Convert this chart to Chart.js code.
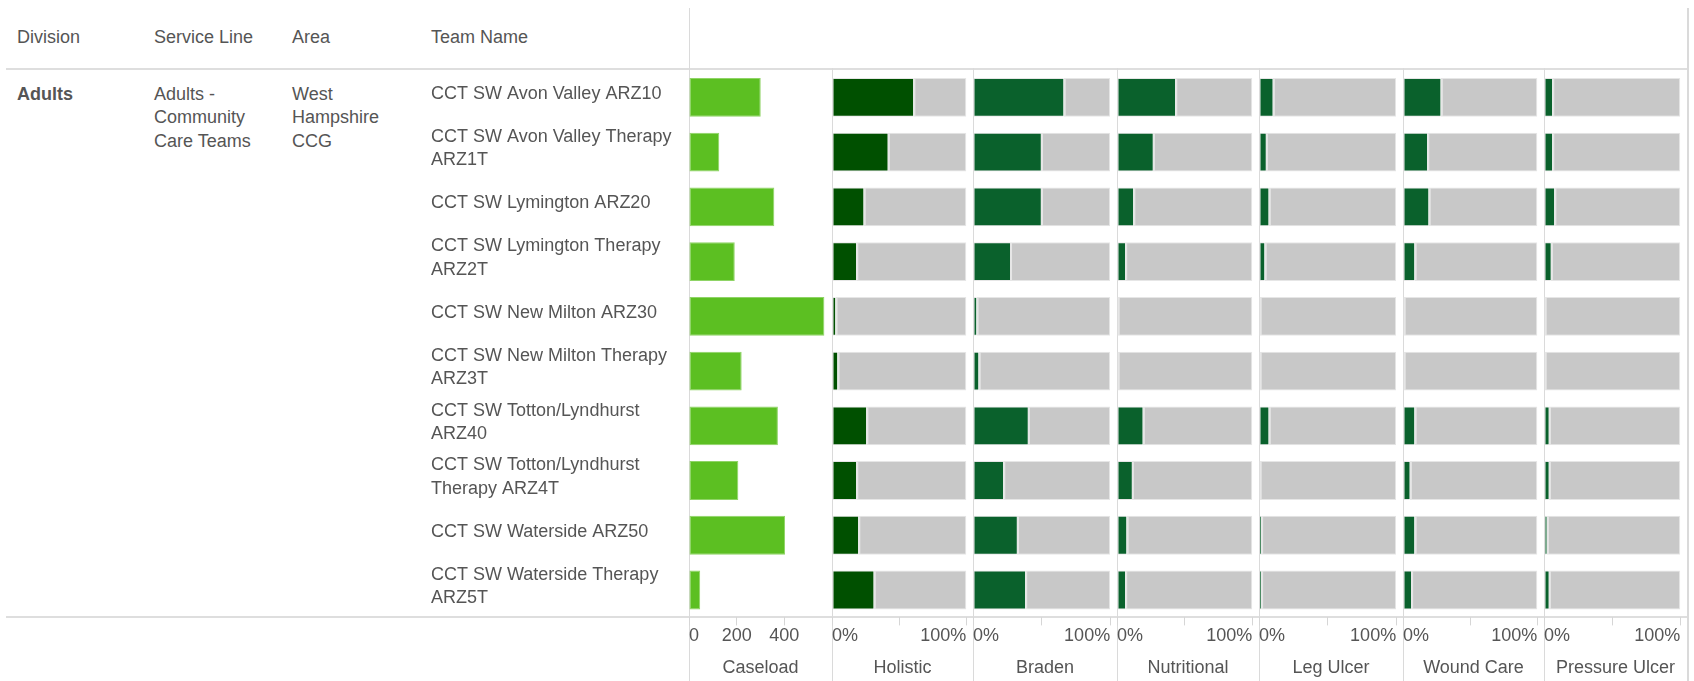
<!DOCTYPE html>
<html lang="en">
<head>
<meta charset="UTF-8">
<title>Team care plan compliance</title>
<script src="https://cdn.jsdelivr.net/npm/chart.js@4.4.1/dist/chart.umd.min.js"></script>
<style>
  body { margin: 0; width: 1694px; height: 681px; background: #fff; position: relative; overflow: hidden;
         font-family: "Liberation Sans", Arial, sans-serif; font-size: 18px; color: #555; }
  .txt { position: absolute; line-height: 23.4px; white-space: nowrap; }
  .hline { position: absolute; left: 6px; width: 1682px; height: 2px; background: #dedede; }
  .vline { position: absolute; width: 1px; bottom: 0; background: #dadada; }
  canvas { position: absolute; top: 70px; }
</style>
</head>
<body>
<div class="hline" style="top:68px"></div>
<div class="hline" style="top:616px"></div>
<div class="vline" style="left:689px;top:8px"></div>
<div class="vline" style="left:832px;top:68px"></div>
<div class="vline" style="left:973px;top:68px"></div>
<div class="vline" style="left:1117px;top:68px"></div>
<div class="vline" style="left:1259px;top:68px"></div>
<div class="vline" style="left:1403px;top:68px"></div>
<div class="vline" style="left:1544px;top:68px"></div>
<div class="vline" style="left:1687px;top:8px;width:2px"></div>

<canvas id="caseload" width="401" height="611" style="left:431px"></canvas>
<canvas id="holistic" width="141" height="611" style="left:832px"></canvas>
<canvas id="braden" width="144" height="611" style="left:973px"></canvas>
<canvas id="nutritional" width="142" height="611" style="left:1117px"></canvas>
<canvas id="legUlcer" width="144" height="611" style="left:1259px"></canvas>
<canvas id="woundCare" width="141" height="611" style="left:1403px"></canvas>
<canvas id="pressureUlcer" width="143" height="611" style="left:1544px"></canvas>

<script>
// table headers and the single division / service line / area
const headers = ["Division", "Service Line", "Area", "Team Name"];
const division = ["Adults"];
const serviceLine = ["Adults -", "Community", "Care Teams"];
const area = ["West", "Hampshire", "CCG"];

// one row per team
const teams = [
  "CCT SW Avon Valley ARZ10",
  ["CCT SW Avon Valley Therapy", "ARZ1T"],
  "CCT SW Lymington ARZ20",
  ["CCT SW Lymington Therapy", "ARZ2T"],
  "CCT SW New Milton ARZ30",
  ["CCT SW New Milton Therapy", "ARZ3T"],
  ["CCT SW Totton/Lyndhurst", "ARZ40"],
  ["CCT SW Totton/Lyndhurst", "Therapy ARZ4T"],
  "CCT SW Waterside ARZ50",
  ["CCT SW Waterside Therapy", "ARZ5T"]
];

const caseload      = [301, 127, 358, 192, 568, 221, 373, 207, 403, 47];
const holistic      = [60.5, 41.5, 23.5, 18, 2.5, 4, 25.5, 18, 19.5, 31];
const braden        = [66, 49.5, 49.5, 27, 2.5, 4, 40, 22, 32, 38];
const nutritional   = [43, 26.5, 12, 6, 0, 0, 19, 11, 7, 6];
const legUlcer      = [10, 5, 7, 4, 0, 0, 7, 0, 1.5, 1.5];
const woundCare     = [28, 18, 19, 8.5, 0, 0, 8.5, 5, 8.5, 6];
const pressureUlcer = [6, 6, 7.5, 5, 0, 0, 3.5, 3.5, 2, 3.5];

const caseloadTicks = [0, 200, 400, 600];
const caseloadTickLabels = ["0", "200", "400", ""];
const pctTicks = [0, 50, 100];
const pctTickLabels = ["0%", "", "100%"];

const FONT = '"Liberation Sans", Arial, sans-serif';
const TEXT = '#555';
const GREY = '#c8c8c8';
const EDGE = '#e6e6e6';

// left hand text columns
const colX = [17, 154, 292, 431];
function addText(x, y, lines, bold) {
  const d = document.createElement('div');
  d.className = 'txt';
  d.style.left = x + 'px';
  d.style.top = y + 'px';
  if (bold) d.style.fontWeight = 'bold';
  d.innerHTML = lines.join('<br>');
  document.body.appendChild(d);
}
headers.forEach((h, i) => addText(colX[i], 26, [h]));
addText(colX[0], 83, division, true);
addText(colX[1], 83, serviceLine);
addText(colX[2], 83, area);

function xAxis(title, max, ticks, labels) {
  return {
    min: 0, max: max,
    afterBuildTicks: s => { s.ticks = ticks.map(v => ({ value: v })); },
    afterFit: s => { s.height = 63.6; s.paddingLeft = 0; s.paddingRight = 0; },
    ticks: {
      align: 'inner', padding: 0, maxRotation: 0, autoSkip: false, color: TEXT,
      font: { family: FONT, size: 18 },
      callback: (v, i) => labels[i]
    },
    grid: { drawOnChartArea: false, drawTicks: true, tickLength: 8, tickColor: '#d6d6d6' },
    border: { display: false },
    title: { display: true, text: title, color: TEXT, font: { family: FONT, size: 18 }, padding: { top: 0, bottom: 2 } }
  };
}

const common = {
  indexAxis: 'y', responsive: false, animation: false,
  layout: { padding: 0 },
  plugins: { legend: { display: false }, tooltip: { enabled: false } }
};

// caseload panel carries the team names as its category axis
new Chart(document.getElementById('caseload'), {
  type: 'bar',
  data: {
    labels: teams,
    datasets: [{
      data: caseload, backgroundColor: '#5cbf22', borderColor: '#8fd466',
      borderWidth: 1, borderSkipped: false, barPercentage: 0.71, categoryPercentage: 1
    }]
  },
  options: Object.assign({}, common, {
    scales: {
      y: {
        afterFit: s => { s.width = 258; s.paddingTop = 0; s.paddingBottom = 0; },
        grid: { display: false }, border: { display: false },
        ticks: {
          crossAlign: 'far', padding: 0, autoSkip: false, labelOffset: -3.5, color: TEXT,
          font: { family: FONT, size: 18, lineHeight: 1.3 }
        }
      },
      x: xAxis('Caseload', 600, caseloadTicks, caseloadTickLabels)
    }
  })
});

function pctPanel(id, title, values, dark) {
  new Chart(document.getElementById(id), {
    type: 'bar',
    data: {
      labels: teams,
      datasets: [
        {
          data: values.map(v => [0, v]), backgroundColor: dark, borderColor: EDGE,
          borderWidth: { left: 1, top: 1, bottom: 1, right: 0 }, borderSkipped: false,
          grouped: false, barPercentage: 0.71, categoryPercentage: 1
        },
        {
          data: values.map(v => [v, 100]), backgroundColor: GREY, borderColor: EDGE,
          borderWidth: { left: 2, top: 1, bottom: 1, right: 1 }, borderSkipped: false,
          grouped: false, barPercentage: 0.71, categoryPercentage: 1
        }
      ]
    },
    options: Object.assign({}, common, {
      scales: {
        y: { display: false },
        x: xAxis(title, 105, pctTicks, pctTickLabels)
      }
    })
  });
}

pctPanel('holistic', 'Holistic', holistic, '#005000');
pctPanel('braden', 'Braden', braden, '#0a612c');
pctPanel('nutritional', 'Nutritional', nutritional, '#0a612c');
pctPanel('legUlcer', 'Leg Ulcer', legUlcer, '#0a612c');
pctPanel('woundCare', 'Wound Care', woundCare, '#0a612c');
pctPanel('pressureUlcer', 'Pressure Ulcer', pressureUlcer, '#0a612c');
</script>
</body>
</html>
